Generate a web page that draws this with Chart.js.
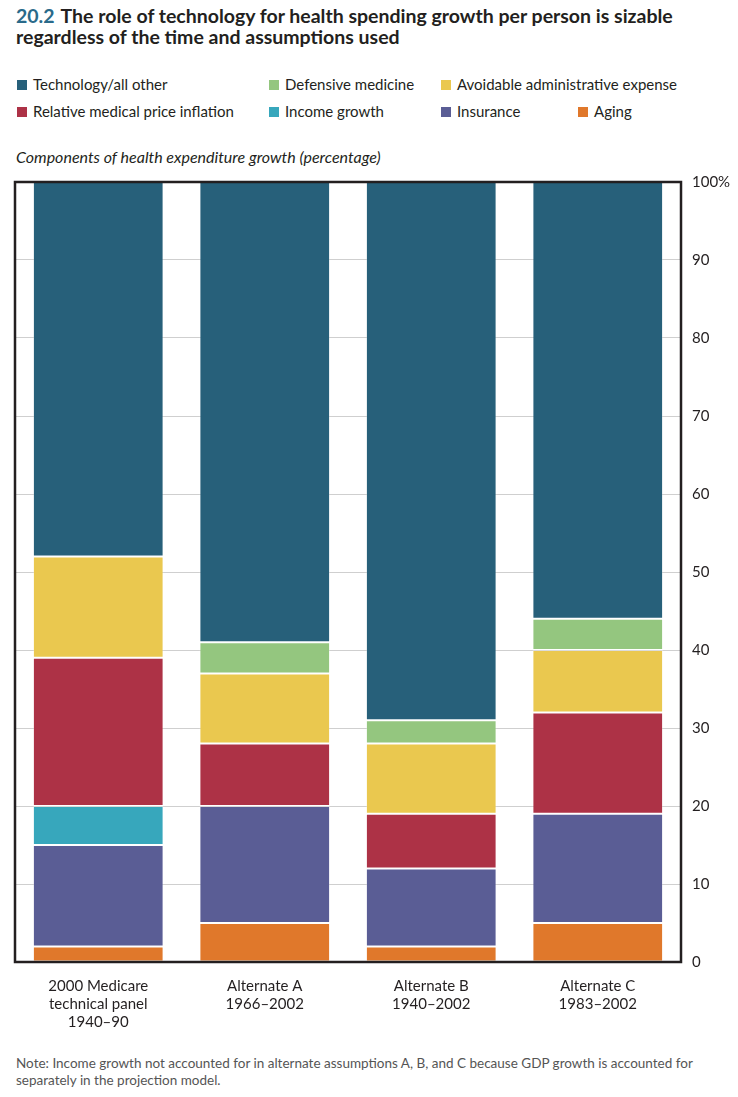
<!DOCTYPE html>
<html><head><meta charset="utf-8">
<script src="https://cdn.jsdelivr.net/npm/chart.js@4"></script>
<style>
body{margin:0;background:#fff;width:738px;height:1097px;position:relative;font-family:Lato,"Open Sans",sans-serif;color:#231f20;overflow:hidden}
.title{position:absolute;left:16px;top:5px;width:706px;font-weight:bold;font-size:19.5px;line-height:21px;color:#231f20}
.title .num{color:#2a6a8a;margin-right:6px}
.leg{position:absolute;font-size:15px;color:#231f20;white-space:nowrap}
.leg span.sw{display:inline-block;width:10px;height:10px;margin-right:6px;vertical-align:0px}
.ytitle{position:absolute;left:16px;top:147px;font-style:italic;font-size:16px;color:#231f20}
.note{position:absolute;left:16px;top:1055px;font-size:13.5px;line-height:17px;color:#555;width:716px}
#wrap{position:absolute;left:0;top:162px;width:738px;height:878px}
</style></head>
<body>
<div class="title"><span class="num">20.2</span>The role of technology for health spending growth per person is sizable regardless of the time and assumptions used</div>
<div id="legend"></div>
<div class="ytitle">Components of health expenditure growth (percentage)</div>
<div id="wrap"><canvas id="c" width="738" height="878"></canvas></div>
<div class="note">Note: Income growth not accounted for in alternate assumptions A, B, and C because GDP growth is accounted for separately in the projection model.</div>
<script>
const categories = [["2000 Medicare","technical panel","1940–90"],["Alternate A","1966–2002"],["Alternate B","1940–2002"],["Alternate C","1983–2002"]];
const aging      = [2, 5, 2, 5];
const insurance  = [13, 15, 10, 14];
const income     = [5, null, null, null];
const relPrice   = [19, 8, 7, 13];
const adminExp   = [13, 9, 9, 8];
const defensive  = [null, 4, 3, 4];
const technology = [48, 59, 69, 56];
const yTicks = [0,10,20,30,40,50,60,70,80,90,100];

const series = [
  {label:"Aging", data:aging, color:"#e0782b"},
  {label:"Insurance", data:insurance, color:"#5a5d95"},
  {label:"Income growth", data:income, color:"#37a7bc"},
  {label:"Relative medical price inflation", data:relPrice, color:"#ad3246"},
  {label:"Avoidable administrative expense", data:adminExp, color:"#eac84f"},
  {label:"Defensive medicine", data:defensive, color:"#94c67f"},
  {label:"Technology/all other", data:technology, color:"#27607a"}
];

const legItems = [
  ["Technology/all other",17,75],["Defensive medicine",269,75],["Avoidable administrative expense",441,75],
  ["Relative medical price inflation",17,102],["Income growth",269,102],["Insurance",441,102],["Aging",578,102]
];
const legEl=document.getElementById('legend');
legItems.forEach(([name,x,y])=>{
  const s=series.find(d=>d.label===name);
  const d=document.createElement('div');d.className='leg';d.style.left=x+'px';d.style.top=y+'px';
  d.innerHTML='<span class="sw" style="background:'+s.color+'"></span>'+name;legEl.appendChild(d);
});

const borderPlugin={id:'box',afterDatasetsDraw(chart){const a=chart.chartArea,ctx=chart.ctx;ctx.save();ctx.strokeStyle='#231f20';ctx.lineWidth=2.5;ctx.strokeRect(a.left,a.top,a.right-a.left,a.bottom-a.top);ctx.restore();}};

new Chart(document.getElementById('c'),{
  type:'bar',
  data:{labels:categories,datasets:series.map(s=>({label:s.label,data:s.data,backgroundColor:s.color,borderColor:'rgba(255,255,255,0.25)',borderWidth:1,borderSkipped:false,barPercentage:0.785,categoryPercentage:1}))},
  options:{
    responsive:false,animation:false,
    layout:{padding:{left:15,top:2,right:0,bottom:0}},
    plugins:{legend:{display:false},tooltip:{enabled:false}},
    scales:{
      x:{stacked:true,grid:{display:false},border:{display:false},
         ticks:{color:'#231f20',font:{family:'Lato',size:15},padding:7,maxRotation:0},
         afterFit(s){s.height=78;}},
      y:{stacked:true,position:'right',min:0,max:100,
         afterBuildTicks(s){s.ticks=yTicks.map(v=>({value:v}));},
         grid:{color:'#cfcfcf',lineWidth:1,drawTicks:false},border:{display:false},
         ticks:{color:'#231f20',font:{family:'Lato',size:15},padding:11,callback:v=>v===100?'100%':v},
         afterFit(s){s.width=57;}}
    }
  },
  plugins:[borderPlugin]
});
</script>
</body></html>
